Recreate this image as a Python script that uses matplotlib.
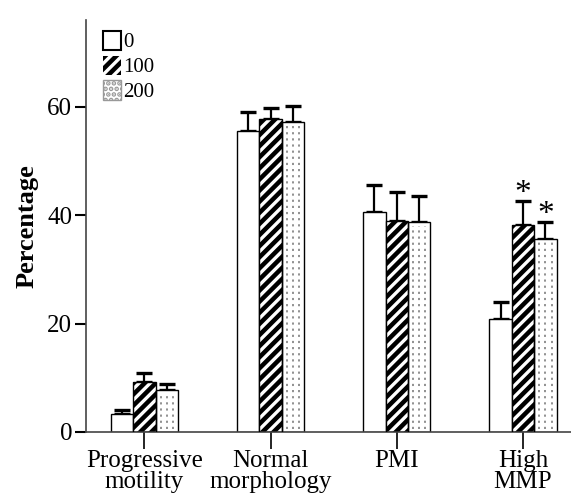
import matplotlib
matplotlib.use("Agg")
import matplotlib.pyplot as plt
import numpy as np

categories = ["Progressive\nmotility", "Normal\nmorphology", "PMI", "High\nMMP"]
series_labels = ["0", "100", "200"]
vals_0 = [3.3, 55.5, 40.5, 20.8]
err_0 = [0.8, 3.5, 5.0, 3.2]
vals_100 = [9.3, 57.8, 39.0, 38.2]
err_100 = [1.5, 2.0, 5.3, 4.4]
vals_200 = [7.7, 57.2, 38.7, 35.7]
err_200 = [1.2, 3.0, 4.9, 3.1]
star_100 = [False, False, False, True]
star_200 = [False, False, False, True]

plt.rcParams['font.family'] = ['Liberation Serif', 'DejaVu Serif']
plt.rcParams['hatch.linewidth'] = 2.4

fig = plt.figure(figsize=(5.71, 5.04), dpi=100)
ax = fig.add_axes([0.151, 0.143, 0.849, 0.817])

x = np.arange(len(categories))
w = 0.178
ekw = dict(elinewidth=1.6, capsize=5.5, capthick=2.4, ecolor='black')

# white bars
ax.bar(x - w, vals_0, w, facecolor='white', edgecolor='black', linewidth=1.0, zorder=2)
ax.errorbar(x - w, vals_0, yerr=[np.zeros(4), err_0], fmt='none', zorder=1, **ekw)

# hatched bars: black with white stripes
ax.bar(x, vals_100, w, facecolor='black', edgecolor='white', hatch='///', linewidth=0, zorder=2)
ax.bar(x, vals_100, w, facecolor='none', edgecolor='black', linewidth=1.0, zorder=3)
ax.errorbar(x, vals_100, yerr=[np.zeros(4), err_100], fmt='none', zorder=1, **ekw)

# dotted bars
ax.bar(x + w, vals_200, w, facecolor='white', edgecolor='black', linewidth=1.0, zorder=2)
for off in (-0.27, 0.0, 0.27):
    ax.vlines(x + w + off * w, 0.6, np.array(vals_200) - 0.6, colors='#888888',
              linestyles=(0, (1.2, 2.2)), linewidth=1.3, zorder=2.5)
ax.errorbar(x + w, vals_200, yerr=[np.zeros(4), err_200], fmt='none', zorder=1, **ekw)

for i in range(len(categories)):
    if star_100[i]:
        ax.annotate('*', (x[i], vals_100[i] + err_100[i]), xytext=(0, -6),
                    textcoords='offset points', ha='center', va='bottom', fontsize=24)
    if star_200[i]:
        ax.annotate('*', (x[i] + w, vals_200[i] + err_200[i]), xytext=(0, -6),
                    textcoords='offset points', ha='center', va='bottom', fontsize=24)

ax.set_xlim(-0.46, 3.38)
ax.set_ylim(0, 76)
ax.set_yticks([0, 20, 40, 60])
ax.set_xticks(x)
ax.set_xticklabels(categories, fontsize=18, linespacing=0.95)
ax.tick_params(axis='y', labelsize=18, length=8, width=1.5, direction='out', pad=2)
ax.tick_params(axis='x', length=12, width=1.2, direction='out', pad=1)
ax.set_ylabel('Percentage', fontsize=19, fontweight='bold', labelpad=6)
for s in ('top', 'right'):
    ax.spines[s].set_visible(False)
ax.spines['left'].set_linewidth(1.2)
ax.spines['left'].set_color('#444444')
ax.spines['bottom'].set_linewidth(1.2)
ax.spines['bottom'].set_color('#444444')

# legend
from matplotlib.patches import Patch
h0 = Patch(facecolor='white', edgecolor='black', linewidth=1.5)
h1 = Patch(facecolor='black', edgecolor='white', hatch='///', linewidth=0)
h2 = Patch(facecolor='white', edgecolor='#999999', hatch='...', linewidth=1.0)
leg = ax.legend([h0, h1, h2], series_labels, loc='upper left', bbox_to_anchor=(0.005, 1.01),
                frameon=False, fontsize=15, handlelength=0.85, handleheight=1.05,
                handletextpad=0.1, labelspacing=0.15, borderaxespad=0.3)

fig.savefig('out.png', dpi=100)
